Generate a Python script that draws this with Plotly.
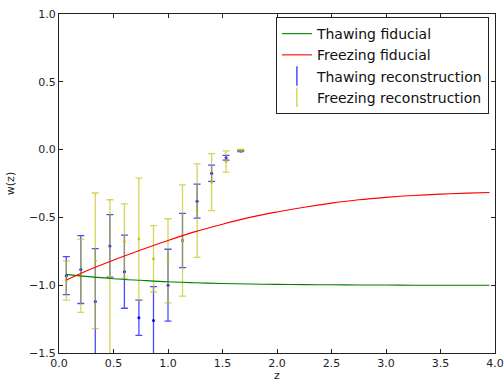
import plotly.graph_objects as go

# Fiducial curves
fid_z = [0.067, 0.25, 0.5, 0.75, 1.0, 1.25, 1.5, 1.75, 2.0, 2.25, 2.5, 2.75, 3.0, 3.25, 3.5, 3.75, 3.95]
thaw_fid = [-0.92, -0.935, -0.952, -0.964, -0.975, -0.982, -0.988, -0.991, -0.994, -0.996, -0.997, -0.998, -0.999, -1.0, -1.0, -1.0, -1.0]
freeze_fid = [-0.962, -0.895, -0.815, -0.74, -0.67, -0.605, -0.55, -0.50, -0.46, -0.425, -0.395, -0.37, -0.352, -0.338, -0.328, -0.321, -0.316]

# Reconstructions
rec_z = [0.067, 0.2, 0.333, 0.467, 0.6, 0.733, 0.867, 1.0, 1.133, 1.267, 1.4, 1.533, 1.667]
thaw_w = [-0.93, -0.885, -1.12, -0.71, -0.90, -1.24, -1.26, -1.00, -0.67, -0.38, -0.175, -0.06, -0.01]
thaw_err = [0.14, 0.25, 0.39, 0.23, 0.27, 0.13, 0.25, 0.265, 0.20, 0.125, 0.06, 0.018, 0.004]
freeze_w = [-0.965, -0.93, -0.82, -0.94, -0.675, -0.66, -0.805, -0.82, -0.67, -0.45, -0.24, -0.088, -0.005]
freeze_err = [0.145, 0.27, 0.50, 0.57, 0.275, 0.45, 0.245, 0.31, 0.41, 0.345, 0.21, 0.078, 0.006]

x_ticks = [0, 0.5, 1.0, 1.5, 2.0, 2.5, 3.0, 3.5, 4.0]
y_ticks = [-1.5, -1.0, -0.5, 0.0, 0.5, 1.0]

BLUE = "rgba(0,0,255,0.7)"
YELLOW = "rgba(191,191,0,0.65)"

fig = go.Figure()
fig.add_trace(go.Scatter(x=rec_z, y=thaw_w, mode="markers", showlegend=False,
                         marker=dict(color="blue", size=3),
                         error_y=dict(type="data", array=thaw_err, color=BLUE, thickness=1.3, width=3.5)))
fig.add_trace(go.Scatter(x=rec_z, y=freeze_w, mode="markers", showlegend=False,
                         marker=dict(color="rgba(191,191,0,0.8)", size=3),
                         error_y=dict(type="data", array=freeze_err, color=YELLOW, thickness=1.3, width=3.5)))
fig.add_trace(go.Scatter(x=fid_z, y=thaw_fid, mode="lines", name="Thawing fiducial",
                         line=dict(color="green", width=1.1, shape="spline")))
fig.add_trace(go.Scatter(x=fid_z, y=freeze_fid, mode="lines", name="Freezing fiducial",
                         line=dict(color="red", width=1.1, shape="spline")))
fig.add_trace(go.Scatter(x=[None], y=[None], mode="markers", name="Thawing reconstruction",
                         marker=dict(symbol="line-ns", size=14, line=dict(color=BLUE, width=1.5))))
fig.add_trace(go.Scatter(x=[None], y=[None], mode="markers", name="Freezing reconstruction",
                         marker=dict(symbol="line-ns", size=14, line=dict(color=YELLOW, width=1.5))))

axis_common = dict(showline=True, linecolor="#222", linewidth=1, mirror="ticks",
                   ticks="inside", ticklen=4, tickcolor="#222", showgrid=False, zeroline=False,
                   automargin=False,
                   tickfont=dict(family="DejaVu Sans", size=11, color="#222"), tickformat=".1f")

fig.update_layout(
    width=504, height=382,
    margin=dict(l=59, r=9, t=14, b=29),
    paper_bgcolor="white", plot_bgcolor="white",
    font=dict(family="DejaVu Sans", color="#222"),
    xaxis=dict(range=[0, 4], tickvals=x_ticks,
               title=dict(text="z", font=dict(size=11), standoff=1), **axis_common),
    yaxis=dict(range=[-1.5, 1.0], tickvals=y_ticks,
               title=dict(text="w(z)", font=dict(size=11), standoff=12), **axis_common),
    legend=dict(x=0.986, y=0.991, xanchor="right", yanchor="top",
                bgcolor="white", bordercolor="#222", borderwidth=1,
                font=dict(family="DejaVu Sans", size=14, color="#111"),
                tracegroupgap=0),
)

fig.write_html("out.html")
